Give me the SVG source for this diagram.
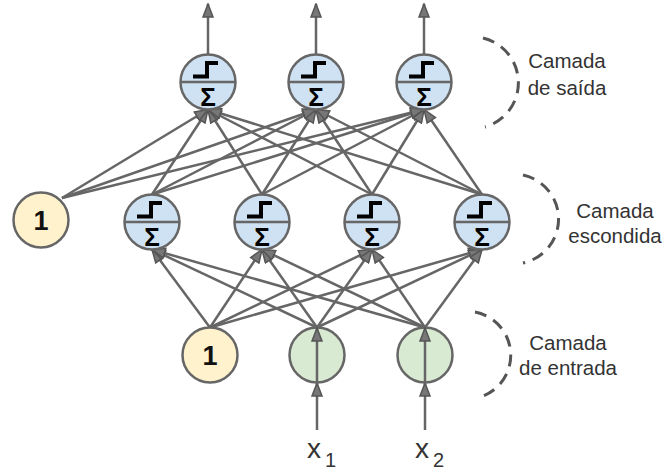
<svg xmlns="http://www.w3.org/2000/svg" width="666" height="472" viewBox="0 0 666 472">
<style>
.conn{stroke:#666;stroke-width:2.5;fill:none;marker-end:url(#ah)}
.n{stroke:#666;stroke-width:2.5}
.blue{fill:#cfe2f3}
.bias{fill:#fff2cc}
.inp{fill:#d9ead3}
.div{stroke:#666;stroke-width:2.5}
.step{stroke:#000;stroke-width:4;fill:none}
.sig{font-family:"Liberation Sans",Arial,sans-serif;font-weight:bold;font-size:26px;fill:#000;text-anchor:middle}
.one{font-family:"Liberation Sans",Arial,sans-serif;font-weight:bold;font-size:27px;fill:#111;text-anchor:middle}
.lbl{font-family:"Liberation Sans",Arial,sans-serif;font-size:20.5px;fill:#333;text-anchor:middle}
.xl{font-family:"Liberation Sans",Arial,sans-serif;fill:#333}
.arc{stroke:#555;stroke-width:3;fill:none;stroke-dasharray:12 8}
</style>
<defs>
<marker id="ah" viewBox="0 0 15 12" refX="14" refY="6" markerWidth="15" markerHeight="12" orient="auto" markerUnits="userSpaceOnUse">
<path d="M1,1 L14,6 L1,11 z" fill="#777" stroke="#555" stroke-width="1.5" stroke-linejoin="miter"/>
</marker>
<g id="neuron">
<circle r="27.5" class="n blue"/>
<line x1="-27.5" y1="0" x2="27.5" y2="0" class="div"/>
<path d="M-15,-5.5 H-1 V-19 H10" class="step"/>
<text x="0" y="24" class="sig">Σ</text>
</g>
</defs>

<g id="connectors">
<line x1="210" y1="327.5" x2="152" y2="249.5" class="conn"/>
<line x1="210" y1="327.5" x2="262" y2="249.5" class="conn"/>
<line x1="210" y1="327.5" x2="372" y2="249.5" class="conn"/>
<line x1="210" y1="327.5" x2="482" y2="249.5" class="conn"/>
<line x1="317" y1="327.5" x2="152" y2="249.5" class="conn"/>
<line x1="317" y1="327.5" x2="262" y2="249.5" class="conn"/>
<line x1="317" y1="327.5" x2="372" y2="249.5" class="conn"/>
<line x1="317" y1="327.5" x2="482" y2="249.5" class="conn"/>
<line x1="425" y1="327.5" x2="152" y2="249.5" class="conn"/>
<line x1="425" y1="327.5" x2="262" y2="249.5" class="conn"/>
<line x1="425" y1="327.5" x2="372" y2="249.5" class="conn"/>
<line x1="425" y1="327.5" x2="482" y2="249.5" class="conn"/>
<line x1="152" y1="194.5" x2="208" y2="109.5" class="conn"/>
<line x1="152" y1="194.5" x2="316" y2="109.5" class="conn"/>
<line x1="152" y1="194.5" x2="424" y2="109.5" class="conn"/>
<line x1="262" y1="194.5" x2="208" y2="109.5" class="conn"/>
<line x1="262" y1="194.5" x2="316" y2="109.5" class="conn"/>
<line x1="262" y1="194.5" x2="424" y2="109.5" class="conn"/>
<line x1="372" y1="194.5" x2="208" y2="109.5" class="conn"/>
<line x1="372" y1="194.5" x2="316" y2="109.5" class="conn"/>
<line x1="372" y1="194.5" x2="424" y2="109.5" class="conn"/>
<line x1="482" y1="194.5" x2="208" y2="109.5" class="conn"/>
<line x1="482" y1="194.5" x2="316" y2="109.5" class="conn"/>
<line x1="482" y1="194.5" x2="424" y2="109.5" class="conn"/>
<line x1="62" y1="198" x2="208" y2="109.5" class="conn"/>
<line x1="62" y1="198" x2="316" y2="109.5" class="conn"/>
<line x1="62" y1="198" x2="424" y2="109.5" class="conn"/>
<line x1="208" y1="54.5" x2="208" y2="4" class="conn"/>
<line x1="316" y1="54.5" x2="316" y2="4" class="conn"/>
<line x1="424" y1="54.5" x2="424" y2="4" class="conn"/>
<line x1="317" y1="430" x2="317" y2="383" class="conn"/>
<line x1="425" y1="430" x2="425" y2="383" class="conn"/>
</g>

<g id="out1"><use href="#neuron" x="208" y="82"/></g>
<g id="out2"><use href="#neuron" x="316" y="82"/></g>
<g id="out3"><use href="#neuron" x="424" y="82"/></g>

<g id="bias2"><circle cx="41" cy="220" r="27.5" class="n bias"/><text x="41" y="229.5" class="one">1</text></g>
<g id="hid1"><use href="#neuron" x="152" y="222"/></g>
<g id="hid2"><use href="#neuron" x="262" y="222"/></g>
<g id="hid3"><use href="#neuron" x="372" y="222"/></g>
<g id="hid4"><use href="#neuron" x="482" y="222"/></g>

<g id="bias1"><circle cx="210" cy="355" r="27.5" class="n bias"/><text x="210" y="364.5" class="one">1</text></g>
<g id="in1"><circle cx="317" cy="355" r="27.5" class="n inp"/><line x1="317" y1="383" x2="317" y2="328" class="conn"/></g>
<g id="in2"><circle cx="425" cy="355" r="27.5" class="n inp"/><line x1="425" y1="383" x2="425" y2="328" class="conn"/></g>

<g id="xlabel1"><text x="307" y="458" class="xl" font-size="28">x</text><text x="325" y="467" class="xl" font-size="20">1</text></g>
<g id="xlabel2"><text x="415" y="458" class="xl" font-size="28">x</text><text x="433" y="467" class="xl" font-size="20">2</text></g>

<g id="layer-out">
<path d="M483,38 A46,46 0 0 1 485,127" class="arc"/>
<text x="567" y="68" class="lbl">Camada</text>
<text x="567" y="95" class="lbl">de saída</text>
</g>
<g id="layer-hidden">
<path d="M523,175 A45,45 0 0 1 523,263" class="arc"/>
<text x="615" y="218" class="lbl">Camada</text>
<text x="615" y="243" class="lbl">escondida</text>
</g>
<g id="layer-in">
<path d="M475,312 A44,44 0 0 1 477,398" class="arc"/>
<text x="568" y="350" class="lbl">Camada</text>
<text x="568" y="375" class="lbl">de entrada</text>
</g>
</svg>
